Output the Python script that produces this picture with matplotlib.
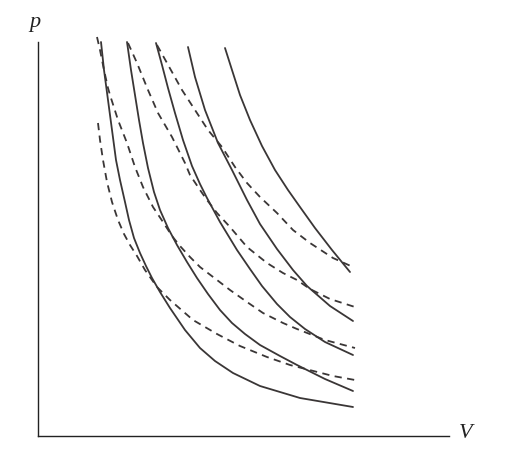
import matplotlib
matplotlib.use("Agg")
import matplotlib.pyplot as plt

# adiabats (solid), V and p in axis units
adiabat_v = [
    [6.3, 6.6, 7.0, 7.4, 7.8, 8.2, 8.7, 9.1, 9.6, 10.2, 10.8, 11.4, 12.2, 13.2, 14.7, 16.2, 17.7, 19.5, 22.2, 26.2, 31.5],
    [8.9, 9.3, 9.7, 10.1, 10.5, 11.0, 11.6, 12.2, 13.0, 13.9, 14.9, 15.9, 17.0, 18.2, 19.4, 20.7, 22.2, 24.2, 25.9, 28.7, 31.5],
    [11.8, 12.4, 13.0, 13.7, 14.5, 15.4, 16.2, 16.9, 18.2, 19.9, 21.2, 22.4, 23.9, 25.2, 26.7, 28.7, 31.5],
    [15.0, 15.7, 16.7, 18.0, 19.4, 20.9, 22.2, 23.9, 25.5, 26.9, 29.2, 31.5],
    [18.7, 19.4, 20.2, 21.2, 22.4, 23.7, 25.0, 26.2, 27.7, 29.4, 31.2],
]
adiabat_p = [
    [39.4, 36.6, 33.6, 30.6, 27.6, 25.6, 23.4, 21.6, 19.8, 18.3, 17.0, 15.8, 14.4, 12.8, 10.6, 8.8, 7.5, 6.3, 5.0, 3.8, 2.9],
    [39.4, 36.6, 34.1, 31.6, 29.3, 26.8, 24.4, 22.6, 20.8, 19.1, 17.4, 15.8, 14.2, 12.6, 11.3, 10.2, 9.1, 8.0, 7.1, 5.7, 4.5],
    [39.3, 37.1, 34.8, 32.3, 29.6, 27.0, 25.2, 23.8, 21.4, 18.6, 16.7, 15.0, 13.2, 11.9, 10.7, 9.4, 8.1],
    [38.9, 35.9, 32.6, 29.3, 26.6, 23.6, 21.2, 18.7, 16.6, 15.0, 13.0, 11.5],
    [38.8, 36.6, 34.1, 31.6, 29.0, 26.6, 24.6, 22.9, 20.8, 18.6, 16.4],
]

# isotherms (dashed)
isotherm_v = [
    [6.0, 6.2, 6.5, 6.9, 7.4, 8.0, 8.6, 9.2, 9.9, 10.7, 11.9, 13.2, 15.5, 17.9, 20.2, 22.9, 25.2, 29.5, 31.7],
    [5.9, 6.2, 6.6, 7.0, 7.2, 8.0, 8.9, 9.7, 10.5, 11.5, 12.5, 13.4, 14.2, 15.2, 16.2, 17.9, 19.2, 20.9, 22.5, 24.5, 25.9, 28.7, 31.7],
    [9.0, 9.9, 11.0, 12.0, 13.4, 14.7, 15.2, 16.2, 16.9, 17.9, 19.2, 20.9, 22.9, 24.5, 25.9, 27.2, 29.2, 31.7],
    [11.9, 12.9, 14.4, 15.7, 17.0, 18.4, 19.7, 20.9, 22.2, 23.9, 25.5, 27.2, 29.5, 31.5],
]
isotherm_p = [
    [31.3, 29.6, 27.6, 25.4, 23.4, 21.6, 20.2, 19.1, 18.0, 16.6, 14.9, 13.6, 11.6, 10.2, 9.0, 7.9, 7.1, 6.0, 5.6],
    [39.9, 38.6, 36.6, 34.8, 34.1, 31.6, 29.3, 26.9, 24.9, 22.9, 21.4, 20.0, 19.0, 17.9, 16.9, 15.6, 14.6, 13.4, 12.3, 11.3, 10.7, 9.6, 8.8],
    [39.3, 37.3, 34.6, 32.3, 29.9, 27.3, 26.1, 24.6, 23.6, 22.3, 20.9, 18.9, 17.3, 16.3, 15.6, 14.7, 13.7, 12.9],
    [39.1, 37.3, 34.6, 32.6, 30.6, 28.9, 26.9, 25.3, 23.9, 22.3, 20.6, 19.3, 17.8, 16.9],
]

ink = '#3a3636'

fig = plt.figure(figsize=(5.08, 4.58), dpi=100)
ax = fig.add_axes([38 / 508, 22 / 458, 411 / 508, 394 / 458])

for v, p in zip(adiabat_v, adiabat_p):
    ax.plot(v, p, color=ink, lw=1.3, clip_on=False, solid_capstyle='round', solid_joinstyle='round')
for v, p in zip(isotherm_v, isotherm_p):
    ax.plot(v, p, color=ink, lw=1.3, ls=(0, (4, 3)), clip_on=False)

ax.set_xlim(0, 41.1)
ax.set_ylim(0, 39.4)
ax.spines['top'].set_visible(False)
ax.spines['right'].set_visible(False)
for s in ('left', 'bottom'):
    ax.spines[s].set_color('#222222')
    ax.spines[s].set_linewidth(1.0)
ax.set_xticks([])
ax.set_yticks([])

fig.text(35 / 508, 1 - 22 / 458, 'p', fontsize=16, style='italic',
         family='Liberation Serif', ha='center', va='center', color='#222222')
fig.text(466 / 508, 1 - 434 / 458, 'V', fontsize=16, style='italic',
         family='Liberation Serif', ha='center', va='center', color='#222222')

fig.savefig('out.png', dpi=100)
